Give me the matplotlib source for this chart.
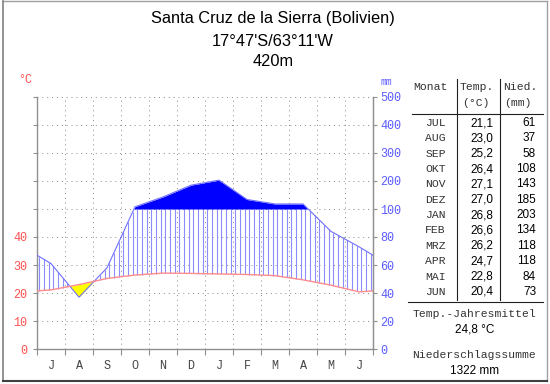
import numpy as np
import matplotlib.pyplot as plt
from matplotlib.lines import Line2D

# climate data, Santa Cruz de la Sierra (Jul..Jun)
months = ["JUL", "AUG", "SEP", "OKT", "NOV", "DEZ",
          "JAN", "FEB", "MRZ", "APR", "MAI", "JUN"]
month_letters = ["J", "A", "S", "O", "N", "D", "J", "F", "M", "A", "M", "J"]
temp = [21.1, 23.0, 25.2, 26.4, 27.1, 27.0, 26.8, 26.6, 26.2, 24.7, 22.8, 20.4]
prec = [61, 37, 58, 108, 143, 185, 203, 134, 118, 118, 84, 73]
temp_labels = ["21,1", "23,0", "25,2", "26,4", "27,1", "27,0",
               "26,8", "26,6", "26,2", "24,7", "22,8", "20,4"]
mean_temp = "24,8 °C"
total_prec = "1322 mm"
left_ticks = ["0", "10", "20", "30", "40", "", "", "", "", ""]
right_ticks = ["0", "20", "40", "60", "80", "100", "200", "300", "400", "500"]

W, H = 550, 384
MONO = "Liberation Mono"
SANS = "Liberation Sans"
RED = "#ff5050"
BLUE = "#5a5aff"


def scale_prec(p):
    # walter-lieth: 10 degC = 20 mm, above 100 mm 10 degC = 100 mm
    p = np.asarray(p, dtype=float)
    return np.where(p <= 100, p / 2.0, 50 + (p - 100) / 10.0)


def ftext(x, y, s, **kw):
    fig.text(x / W, 1 - y / H, s, **kw)


# curve positions: month centres plus wrapped ends
x = np.concatenate([[0], np.arange(12) + 0.5, [12]])
t = np.array(temp)
p = scale_prec(prec)
t = np.concatenate([[(t[0] + t[-1]) / 2], t, [(t[0] + t[-1]) / 2]])
p = np.concatenate([[(p[0] + p[-1]) / 2], p, [(p[0] + p[-1]) / 2]])

fig = plt.figure(figsize=(W / 100, H / 100), dpi=100)
ax = fig.add_axes([37 / W, 1 - 349 / H, 336 / W, 252 / H])
ax.set_xlim(0, 12)
ax.set_ylim(0, 90)

# dotted grid
for yy in range(10, 100, 10):
    ax.plot([0, 12], [yy, yy], color="#888888", lw=0.7, ls=(0, (1, 4)), zorder=0)
for xx in range(1, 12):
    ax.plot([xx, xx], [0, 90], color="#888888", lw=0.7, ls=(0, (1, 4)), zorder=0)

# fine x grid for the fills
xf = np.linspace(0, 12, 1201)
tf = np.interp(xf, x, t)
pf = np.interp(xf, x, p)

# humid hatching
xh = np.arange(1 / 12, 12, 1 / 6)
th = np.interp(xh, x, t)
ph = np.minimum(np.interp(xh, x, p), 50)
m = ph > th
ax.vlines(xh[m], th[m], ph[m], color="#8c8cff", lw=0.8, zorder=2)

# arid period
ax.fill_between(xf, pf, tf, where=tf > pf, interpolate=True,
                color="#ffff00", lw=0, zorder=2)
# very humid (> 100 mm)
ax.fill_between(xf, 50, pf, where=pf > 50, interpolate=True,
                color="#0000ff", lw=0, zorder=3)

ax.plot(x, p, color="#7070ff", lw=0.8, zorder=4)
ax.plot(x, t, color="#ff8c8c", lw=1.0, zorder=4)

# axes styling
ax.spines["top"].set_visible(False)
for s in ["left", "right", "bottom"]:
    ax.spines[s].set_color("#909090")
    ax.spines[s].set_linewidth(1.0)
ax.set_yticks(range(0, 100, 10))
ax.set_yticklabels(left_ticks, family=MONO, fontsize=8.5, color=RED)
ax.set_xticks(range(13))
ax.set_xticklabels([])
ax.set_xticks(np.arange(12) + 0.5, minor=True)
ax.set_xticklabels(month_letters, minor=True, family=MONO, fontsize=8.5,
                   color="#444444")
ax.tick_params(axis="x", which="major", length=4, color="#909090")
ax.tick_params(axis="x", which="minor", length=0, pad=8)
ax.tick_params(axis="y", length=3, color="#909090", pad=4)

ax2 = ax.twinx()
ax2.set_ylim(0, 90)
ax2.set_yticks(range(0, 100, 10))
ax2.set_yticklabels(right_ticks, family=MONO, fontsize=8.5, color=BLUE)
ax2.tick_params(axis="y", length=3, color="#909090", pad=2)
for s in ["top", "left", "bottom"]:
    ax2.spines[s].set_visible(False)
ax2.spines["right"].set_color("#909090")

ftext(25, 80, "°C", family=MONO, fontsize=8.5, color=RED, ha="center", va="center")
ftext(386, 82, "mm", family=MONO, fontsize=7, color=BLUE, ha="center", va="center")

# title
ftext(273, 18, "Santa Cruz de la Sierra (Bolivien)", family=SANS, fontsize=11.8,
      ha="center", va="center")
ftext(273, 41, "17°47'S/63°11'W", family=SANS, fontsize=11.8, ha="center", va="center")
ftext(273, 62, "420m", family=SANS, fontsize=11.8, ha="center", va="center")

# table
tc = "#333333"
ftext(413, 87, "Monat", family=MONO, fontsize=8.2, color=tc, va="center")
ftext(477, 87, "Temp.", family=MONO, fontsize=8.2, color=tc, ha="center", va="center")
ftext(476, 103, "(°C)", family=MONO, fontsize=8.2, color=tc, ha="center", va="center")
ftext(520, 87, "Nied.", family=MONO, fontsize=8.2, color=tc, ha="center", va="center")
ftext(518, 103, "(mm)", family=MONO, fontsize=8.2, color=tc, ha="center", va="center")
for i in range(12):
    yy = 123 + i * 15.35
    ftext(446, yy, months[i], family=MONO, fontsize=8.2, color=tc, ha="right", va="center")
    ftext(493, yy, temp_labels[i], family=SANS, fontsize=8.5, ha="right", va="center")
    ftext(536, yy, str(prec[i]), family=SANS, fontsize=8.5, ha="right", va="center")

ftext(474, 314, "Temp.-Jahresmittel", family=MONO, fontsize=8.2, color=tc,
      ha="center", va="center")
ftext(475, 330, mean_temp, family=SANS, fontsize=8.5, ha="center", va="center")
ftext(474, 355, "Niederschlagssumme", family=MONO, fontsize=8.2, color=tc,
      ha="center", va="center")
ftext(475, 371, total_prec, family=SANS, fontsize=8.5, ha="center", va="center")


def fline(x0, y0, x1, y1, c="#202020", lw=0.8):
    fig.add_artist(Line2D([x0 / W, x1 / W], [1 - y0 / H, 1 - y1 / H],
                          color=c, lw=lw))


fline(456.5, 79, 456.5, 300)
fline(499.5, 79, 499.5, 300)
fline(412, 114, 543, 114)
fline(408, 302, 543, 302)

# outer frame
fline(2.5, 1, 546.5, 1, c="#a0a0a0", lw=1)
fline(546.5, 1, 546.5, 381, c="#a0a0a0", lw=1)
fline(2.5, 1, 2.5, 381, c="#808080", lw=1.2)
fline(2.5, 381, 546.5, 381, c="#404040", lw=1.5)

fig.savefig("out.png", dpi=100)
